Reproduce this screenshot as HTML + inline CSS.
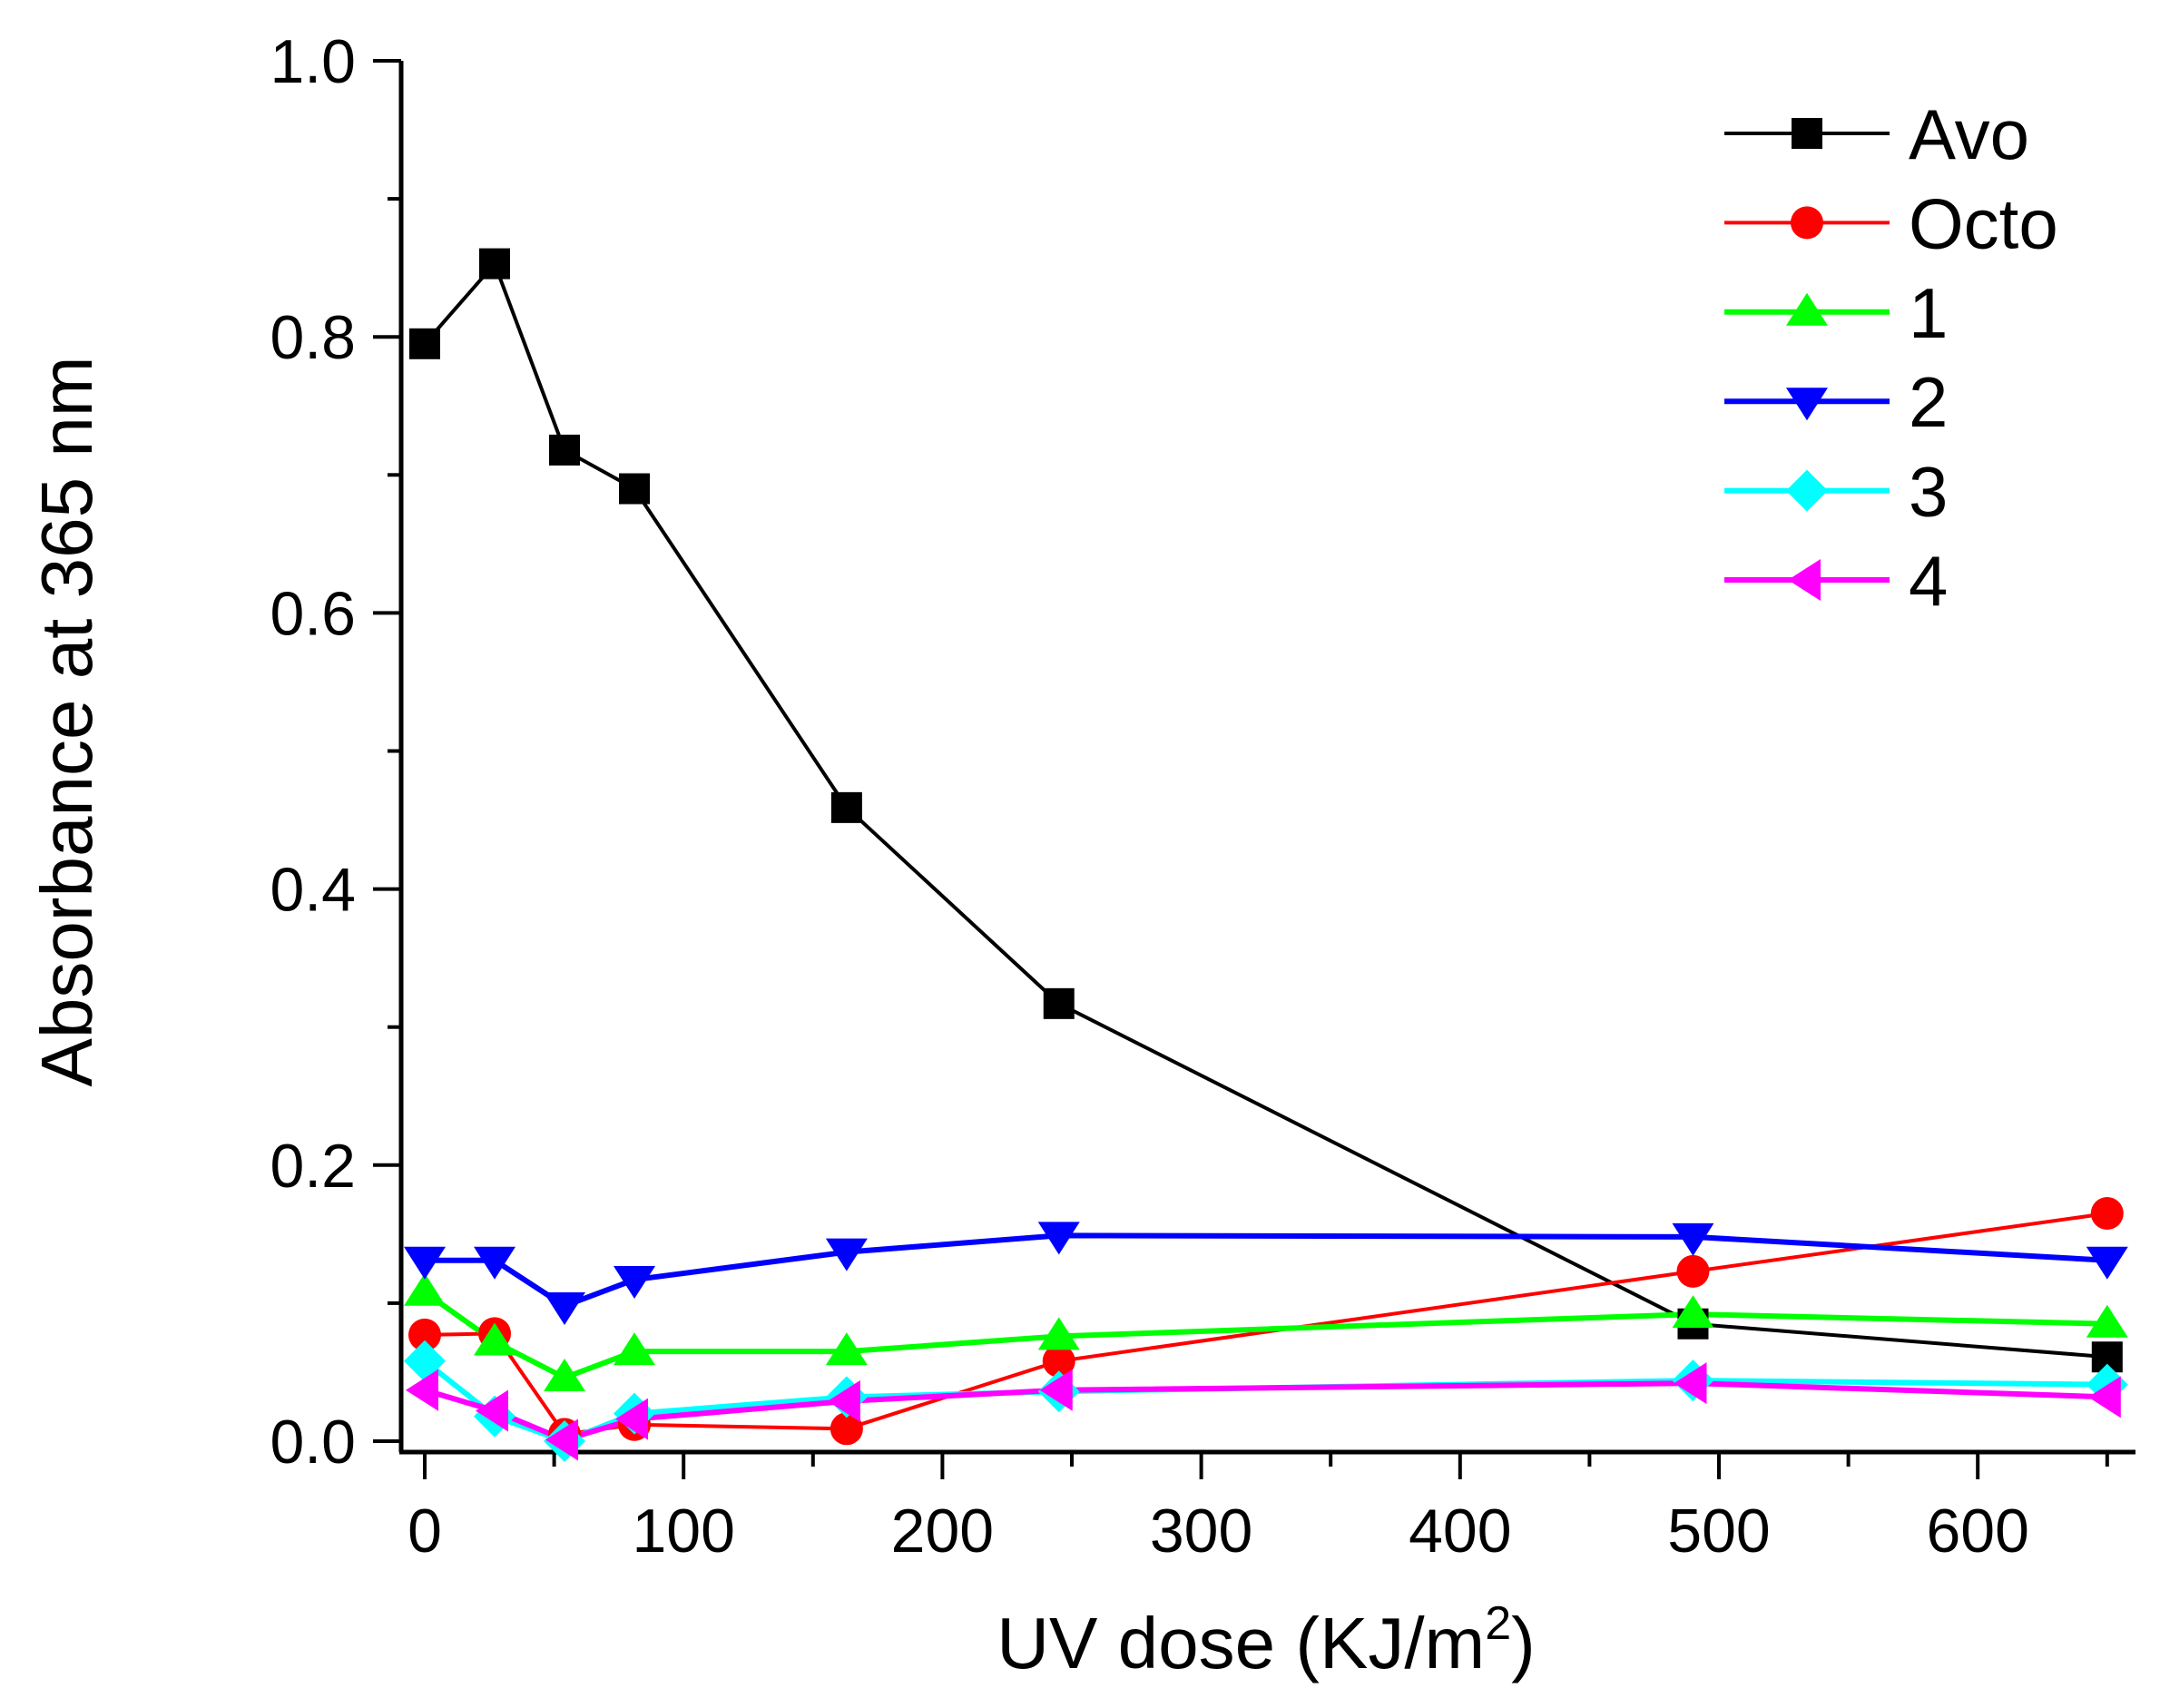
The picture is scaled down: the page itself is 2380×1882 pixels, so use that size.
<!DOCTYPE html>
<html><head><meta charset="utf-8"><style>
html,body{margin:0;padding:0;background:#fff;}
svg{display:block;}
text{font-family:"Liberation Sans",Arial,sans-serif;fill:#000;}
</style></head><body>
<svg id="s" width="2380" height="1882" viewBox="0 0 2380 1882" xmlns="http://www.w3.org/2000/svg">
<g id="g"></g>
</svg>
<script>
const X=v=>468+v*2.852, Y=v=>1588-v*1521;
let h='';
h+=`<line x1="442" y1="67" x2="442" y2="1600" stroke="#000" stroke-width="5"/>`;
h+=`<line x1="440" y1="1600" x2="2353" y2="1600" stroke="#000" stroke-width="5"/>`;
for(let i=0;i<=10;i++){const v=i/10,y=Y(v),maj=i%2==0;
 h+=`<line x1="${maj?411:427}" y1="${y}" x2="442" y2="${y}" stroke="#000" stroke-width="4"/>`;
 if(maj)h+=`<text x="392" y="${y+24}" font-size="68" text-anchor="end">${v.toFixed(1)}</text>`;}
for(let v=0;v<=650;v+=50){const x=X(v),maj=v%100==0;
 h+=`<line x1="${x}" y1="1600" x2="${x}" y2="${maj?1630:1616}" stroke="#000" stroke-width="4"/>`;
 if(maj)h+=`<text x="${x}" y="1710" font-size="68" text-anchor="middle">${v}</text>`;}
h+=`<text transform="translate(101,795) rotate(-90)" font-size="80" text-anchor="middle">Absorbance at 365 nm</text>`;
h+=`<text x="1395" y="1838" font-size="80" text-anchor="middle">UV dose (KJ/m<tspan font-size="52" dy="-32">2</tspan><tspan dy="32">)</tspan></text>`;
const xs=[0,27,54,81,163,245,490,650];
const S=[
 ['#000','sq',[0.795,0.853,0.718,0.69,0.459,0.317,0.085,0.061],'Avo',4],
 ['#ff0000','ci',[0.077,0.078,0.005,0.012,0.009,0.058,0.123,0.165],'Octo',4],
 ['#00ff00','up',[0.108,0.072,0.046,0.065,0.065,0.076,0.092,0.085],'1',6],
 ['#0000ff','dn',[0.131,0.131,0.098,0.117,0.137,0.149,0.148,0.131],'2',6],
 ['#00ffff','di',[0.058,0.018,0.0,0.02,0.032,0.036,0.044,0.041],'3',6],
 ['#ff00ff','le',[0.037,0.022,0.001,0.016,0.029,0.037,0.042,0.032],'4',6]];
function mk(t,x,y,c){const r=17;
 if(t=='sq')return `<rect x="${x-r}" y="${y-r}" width="${2*r}" height="${2*r}" fill="${c}"/>`;
 if(t=='ci')return `<circle cx="${x}" cy="${y}" r="${r+1}" fill="${c}"/>`;
 if(t=='up')return `<polygon points="${x},${y-21} ${x+23},${y+15} ${x-23},${y+15}" fill="${c}"/>`;
 if(t=='dn')return `<polygon points="${x},${y+21} ${x+23},${y-15} ${x-23},${y-15}" fill="${c}"/>`;
 if(t=='di')return `<polygon points="${x},${y-23} ${x+23},${y} ${x},${y+23} ${x-23},${y}" fill="${c}"/>`;
 if(t=='le')return `<polygon points="${x-21},${y} ${x+15},${y-23} ${x+15},${y+23}" fill="${c}"/>`;}
S.forEach((s,i)=>{const [c,t,d,n,w]=s;
 h+=`<polyline fill="none" stroke="${c}" stroke-width="${w}" points="${xs.map((x,j)=>X(x)+','+Y(d[j])).join(' ')}"/>`;});
S.forEach((s,i)=>{const [c,t,d,n,w]=s;
 xs.forEach((x,j)=>h+=mk(t,X(x),Y(d[j]),c));
 const ly=147+i*98.4;
 h+=`<line x1="1900" y1="${ly}" x2="2082" y2="${ly}" stroke="${c}" stroke-width="${w}"/>`+mk(t,1991,ly,c);
 h+=`<text x="2103" y="${ly+28}" font-size="78">${n}</text>`;});
document.getElementById('g').innerHTML=h;
</script>
</body></html>
